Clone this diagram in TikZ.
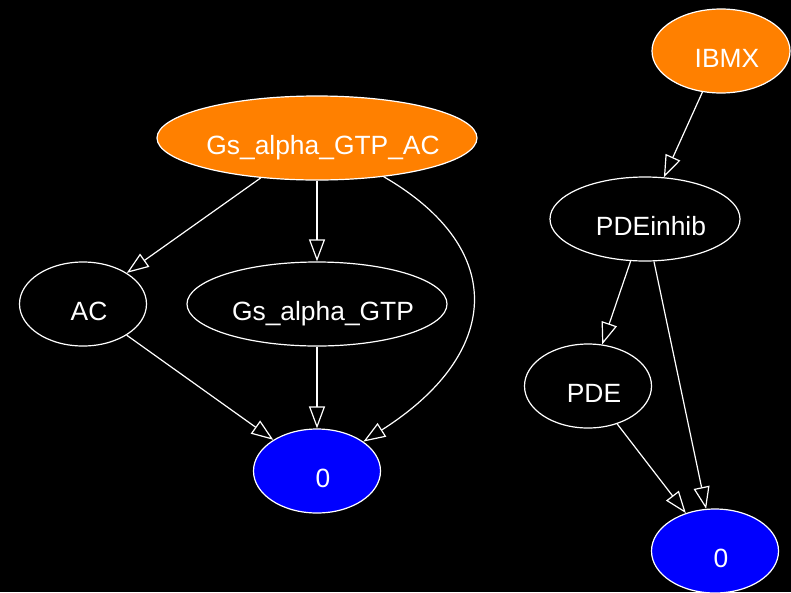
\documentclass[tikz,border=0pt]{standalone}
\usepackage{fontspec}
\setmainfont{Liberation Sans}
\usetikzlibrary{shapes.geometric,arrows.meta}

\definecolor{pathorange}{RGB}{255,128,0}
\definecolor{sinkblue}{RGB}{0,0,255}

\tikzset{
    species/.style={ellipse, draw=white, line width=1.2pt, inner sep=0pt, fill=black},
    source/.style={species, fill=pathorange},
    sink/.style={species, fill=sinkblue},
    lbl/.style={text=white, font=\fontsize{26.4}{30}\selectfont, text height=19pt, text depth=0pt, inner sep=0pt, xshift=6pt, yshift=-6.5pt},
    react/.style={draw=white, line width=1.2pt, -{Triangle[open, length=22pt, width=16pt]}}
}

\begin{document}
\begin{tikzpicture}[x=1pt, y=-1pt]
        % background and page size
        \fill[black] (0,0) rectangle (791,592);
        \useasboundingbox (0,0) rectangle (791,592);

        % left part of the network
        \node[source, minimum width=320pt, minimum height=84pt, label={[lbl]center:Gs\_alpha\_GTP\_AC}] (gsac) at (317,138) {};
        \node[species, minimum width=127pt, minimum height=84pt, label={[lbl]center:AC}] (ac) at (83,304) {};
        \node[species, minimum width=260pt, minimum height=84pt, label={[lbl]center:Gs\_alpha\_GTP}] (gs) at (317,304) {};
        \node[sink, minimum width=127pt, minimum height=84pt, label={[lbl]center:0}] (zeroL) at (317,471) {};

        % right part of the network
        \node[source, minimum width=138pt, minimum height=84pt, label={[lbl]center:IBMX}] (ibmx) at (721,51) {};
        \node[species, minimum width=190pt, minimum height=84pt, label={[lbl]center:PDEinhib}] (pdei) at (645,219) {};
        \node[species, minimum width=127pt, minimum height=84pt, label={[lbl]center:PDE}] (pde) at (588,386) {};
        \node[sink, minimum width=127pt, minimum height=84pt, label={[lbl]center:0}] (zeroR) at (715,551) {};

        % reactions
        \draw[react] (gsac) -- (ac);
        \draw[react] (gsac) -- (gs);
        \draw[react] (gsac) .. controls (510,250) and (500,355) .. (zeroL);
        \draw[react] (ac) -- (zeroL);
        \draw[react] (gs) -- (zeroL);

        \draw[react] (ibmx) -- (pdei);
        \draw[react] (pdei) -- (pde);
        \draw[react] (pdei) -- (zeroR);
        \draw[react] (pde) -- (zeroR);
    \end{tikzpicture}
\end{document}
